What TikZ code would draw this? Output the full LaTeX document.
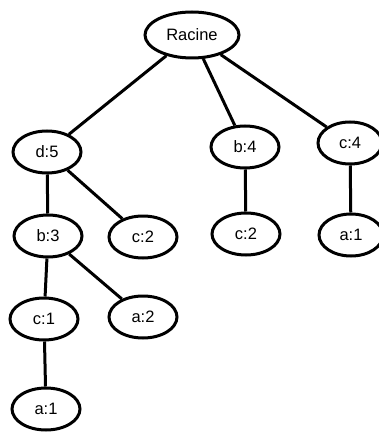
\documentclass[tikz,border=0pt]{standalone}
\usepackage{fontspec}
\setmainfont{Liberation Sans}
\usetikzlibrary{shapes.geometric}
\tikzset{
  tnode/.style={ellipse, draw=black, line width=3pt, fill=white, inner sep=0pt,
    minimum width=68pt, minimum height=42pt, font=\fontsize{16.5}{19}\selectfont},
  rootnode/.style={tnode, minimum width=94pt, minimum height=46pt},
  edge/.style={draw=black, line width=3pt}
}
\begin{document}
\begin{tikzpicture}[x=1pt,y=-1pt]
\fill[white] (0,0) rectangle (379,433);
\useasboundingbox (0,0) rectangle (379,433);
\node[rootnode] (r) at (192,35) {Racine};
\node[tnode] (d5) at (47,152) {d:5};
\node[tnode] (b3) at (48,236) {b:3};
\node[tnode] (c2l) at (143,237) {c:2};
\node[tnode] (b4) at (245,147) {b:4};
\node[tnode] (c2r) at (246,234) {c:2};
\node[tnode, minimum width=64pt] (c4) at (350,143) {c:4};
\node[tnode, minimum width=64pt] (a1r) at (351,235) {a:1};
\node[tnode] (c1) at (44,319) {c:1};
\node[tnode] (a2) at (143,317) {a:2};
\node[tnode] (a1b) at (46,409) {a:1};
\draw[edge] (r) -- (d5);
\draw[edge] (r) -- (b4);
\draw[edge] (r) -- (c4);
\draw[edge] (d5) -- (b3);
\draw[edge] (d5) -- (c2l);
\draw[edge] (b4) -- (c2r);
\draw[edge] (c4) -- (a1r);
\draw[edge] (b3) -- (c1);
\draw[edge] (b3) -- (a2);
\draw[edge] (c1) -- (a1b);
\end{tikzpicture}
\end{document}
